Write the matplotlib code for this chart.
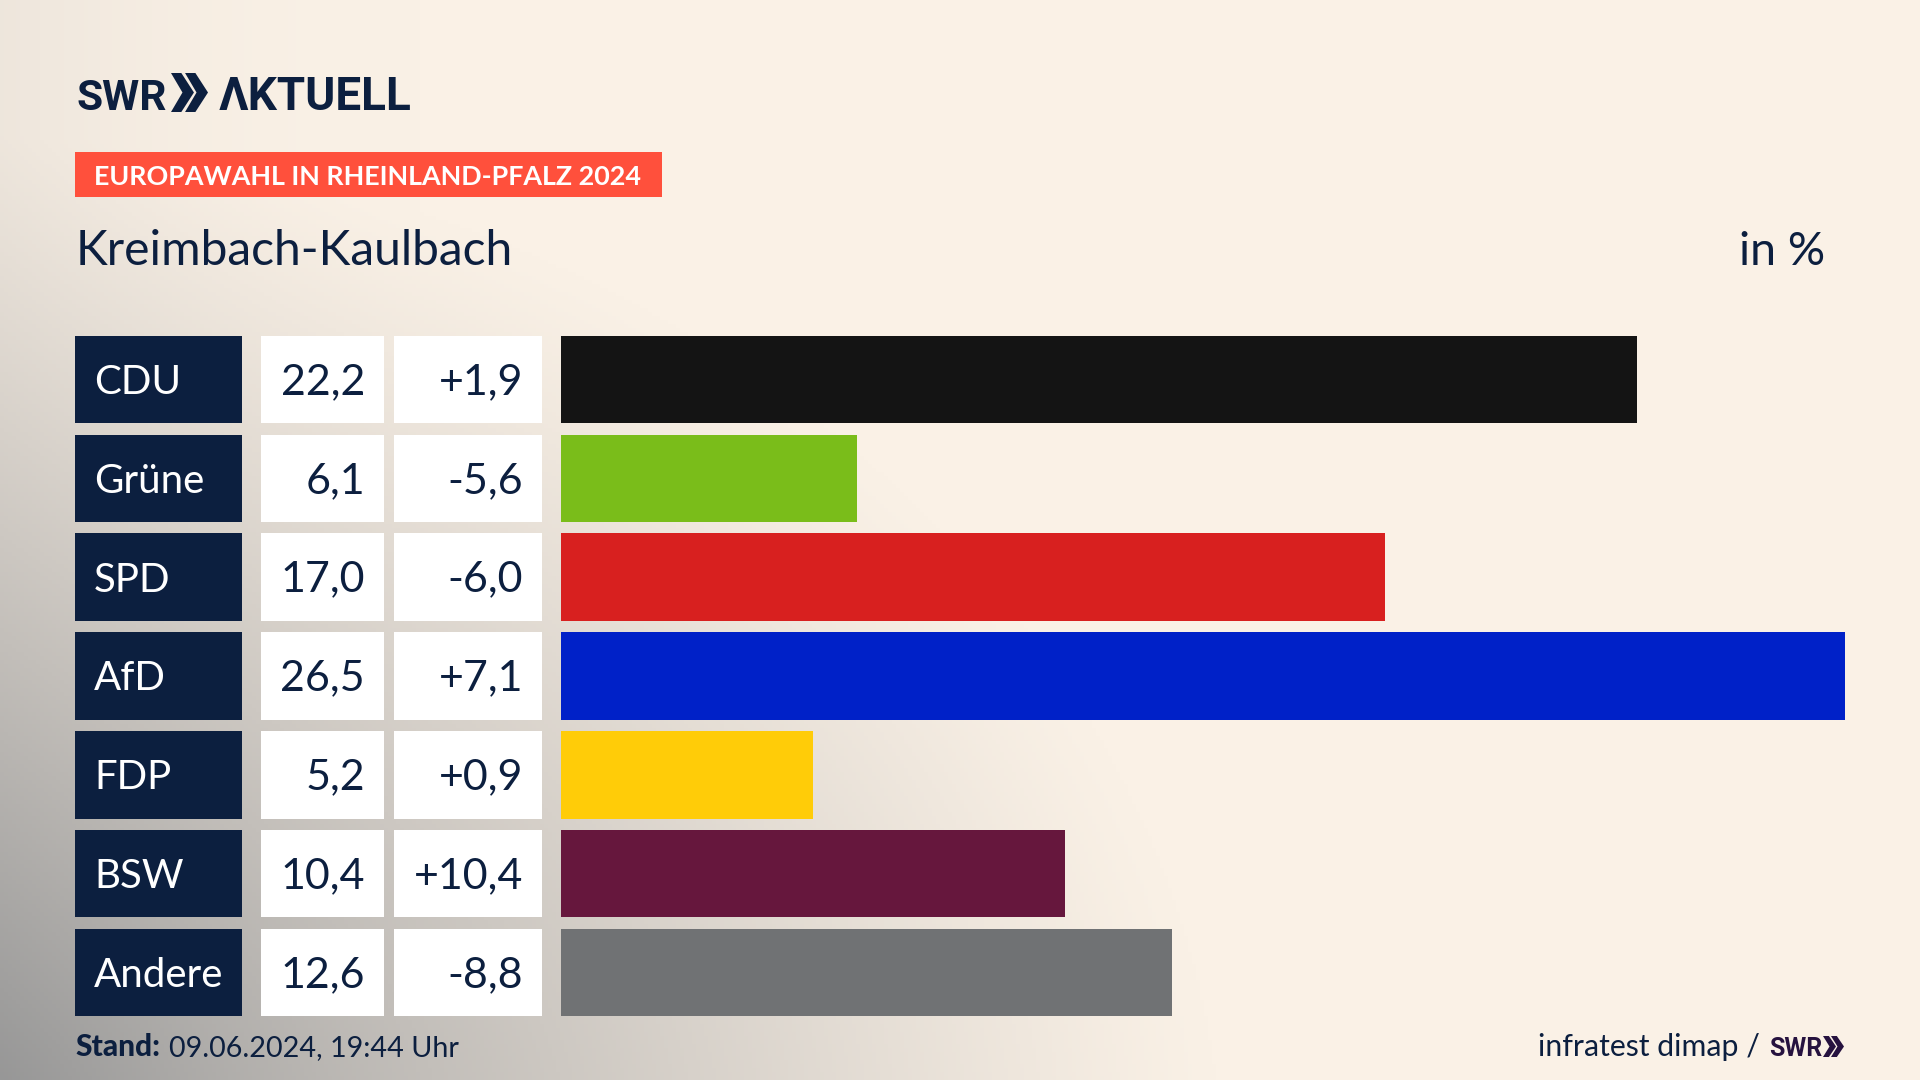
import numpy as np
import matplotlib
matplotlib.use("Agg")
import matplotlib.pyplot as plt
from matplotlib.patches import Polygon, Rectangle

parties = ["CDU", "Grüne", "SPD", "AfD", "FDP", "BSW", "Andere"]
shares = [22.2, 6.1, 17.0, 26.5, 5.2, 10.4, 12.6]
changes = [1.9, -5.6, -6.0, 7.1, 0.9, 10.4, -8.8]
colors = ["#141414", "#7ABD1A", "#D8201F", "#0021C8", "#FFCC08", "#66173D", "#707274"]

NAVY = "#0C1F3F"
LOGO_FONT = ["Roboto", "DejaVu Sans"]

plt.rcParams["font.family"] = ["Lato", "DejaVu Sans"]


def de(v, sign=False):
    s = f"{v:+.1f}" if sign else f"{v:.1f}"
    return s.replace(".", ",")


def chevrons(ax, x0, y0, w, h, color):
    # two arrow heads of the SWR logo
    cw = w * 0.62
    step = w - cw
    for i in range(2):
        x = x0 + i * step
        ax.add_patch(Polygon([(x, y0), (x + cw * 0.45, y0), (x + cw, y0 + h / 2),
                              (x + cw * 0.45, y0 + h), (x, y0 + h),
                              (x + cw * 0.5, y0 + h / 2)], color=color, lw=0))


fig = plt.figure(figsize=(19.2, 10.8), dpi=100)

# background in pixel coordinates
bg = fig.add_axes([0, 0, 1, 1])
bg.axis("off")

yy, xx = np.mgrid[0:1080:4, 0:1920:4]
dist = np.sqrt(((xx + 80) / 1300.0) ** 2 + ((yy - 1180) / 1050.0) ** 2)
t = np.clip(1 - dist, 0, 1) ** 1.15
left = np.clip(1 - xx / 420.0, 0, 1) ** 2 * 0.12
t = np.clip(t + left, 0, 1)
cream = np.array([250, 241, 230]) / 255
grey = np.array([150, 150, 150]) / 255
img = cream[None, None, :] * (1 - t[..., None]) + grey[None, None, :] * t[..., None]
bg.imshow(img, extent=(0, 1920, 1080, 0), aspect="auto", zorder=0)
bg.set_xlim(0, 1920)
bg.set_ylim(1080, 0)

# logo
bg.text(76, 110, "SWR", fontsize=30.5, fontweight="bold", family=LOGO_FONT, color=NAVY, va="baseline")
chevrons(bg, 171, 73, 37, 39, NAVY)
bg.text(219, 110, "ΛKTUELL", fontsize=33, fontweight="bold", family=LOGO_FONT, color=NAVY, va="baseline")

# header
bg.add_patch(Rectangle((75, 152), 587, 45, color="#FF503C", lw=0))
bg.text(94, 185, "EUROPAWAHL IN RHEINLAND-PFALZ 2024", fontsize=19.4, fontweight="bold",
        color="white", va="baseline")
bg.text(76, 265, "Kreimbach-Kaulbach", fontsize=34.6, color=NAVY, va="baseline")
bg.text(1825, 265, "in %", fontsize=33.5, color=NAVY, ha="right", va="baseline")

# table cells
top = 335.8
pitch = 98.8
row_h = 87.5
for i, (name, v, d) in enumerate(zip(parties, shares, changes)):
    y = top + i * pitch
    base = y + row_h / 2 + 14.5
    bg.add_patch(Rectangle((75, y), 167, row_h, color=NAVY, lw=0))
    bg.add_patch(Rectangle((261, y), 123, row_h, color="white", lw=0))
    bg.add_patch(Rectangle((394, y), 148, row_h, color="white", lw=0))
    bg.text(94, base, name, fontsize=29, color="white", va="baseline")
    bg.text(365, base, de(v), fontsize=31, color=NAVY, ha="right", va="baseline")
    bg.text(523, base, de(d, sign=True), fontsize=31, color=NAVY, ha="right", va="baseline")

# bars
bar_left, bar_right = 561, 1845
ax = fig.add_axes([bar_left / 1920, 1 - (top - (pitch - row_h) / 2 + 7 * pitch) / 1080,
                   (bar_right - bar_left) / 1920, 7 * pitch / 1080])
ax.barh(range(len(parties)), shares, height=row_h / pitch, color=colors)
ax.set_xlim(0, max(shares))
ax.set_ylim(6.5, -0.5)
ax.axis("off")

# footer
bg.text(75, 1056, "Stand:", fontsize=21.5, fontweight="black", color=NAVY, va="baseline")
bg.text(169, 1056, "09.06.2024, 19:44 Uhr", fontsize=20.7, color=NAVY, va="baseline")
bg.text(1760, 1056, "infratest dimap /", fontsize=21.8, color=NAVY, ha="right", va="baseline")
bg.text(1769, 1056, "SWR", fontsize=18, fontweight="bold", family=LOGO_FONT, color="#26123F", va="baseline")
chevrons(bg, 1823, 1036, 21, 21, "#26123F")

fig.savefig("out.png", dpi=100)
